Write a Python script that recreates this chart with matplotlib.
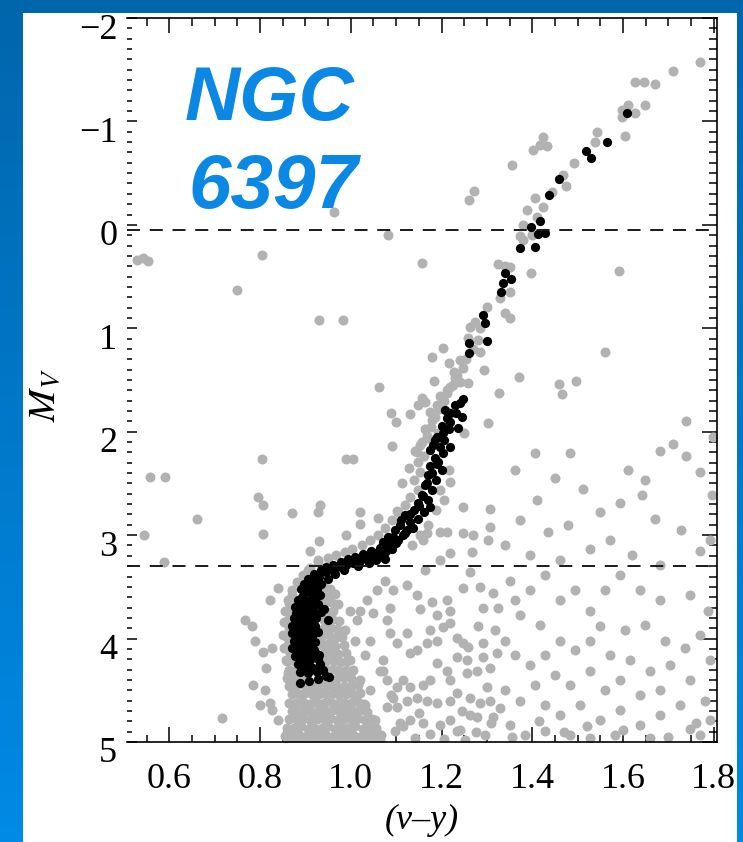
import matplotlib
matplotlib.use('Agg')
import matplotlib.pyplot as plt
import numpy as np
from matplotlib.patches import Rectangle
from matplotlib.transforms import ScaledTranslation

plt.rcParams['font.family'] = ['Liberation Serif', 'DejaVu Serif']
plt.rcParams['mathtext.fontset'] = 'stix'

# ---------------- data ----------------
x_ticks = [0.6, 0.8, 1.0, 1.2, 1.4, 1.6, 1.8]
x_tick_labels = ['0.6', '0.8', '1.0', '1.2', '1.4', '1.6', '1.8']
y_ticks = [-2, -1, 0, 1, 2, 3, 4, 5]
y_tick_labels = ['\u22122', '\u22121', '0', '1', '2', '3', '4', '5']
ref_lines = [0.05, 3.3]
title_lines = ['NGC', '6397']

# black (selected members)
black_rgb_vy = [1.609, 1.565, 1.519, 1.530, 1.459, 1.437, 1.417, 1.398, 1.413, 1.428, 1.373, 1.406,
                1.340, 1.353, 1.336, 1.332, 1.292, 1.296, 1.300, 1.261, 1.261, 1.248, 1.241, 1.208,
                1.219, 1.232, 1.245, 1.219, 1.217, 1.204, 1.186, 1.182, 1.197, 1.219, 1.186, 1.230,
                1.213, 1.200, 1.237, 1.191, 1.206, 1.175, 1.204,
                1.193, 1.175, 1.202, 1.171, 1.188, 1.164, 1.179, 1.157, 1.171, 1.149, 1.175, 1.140,
                1.162, 1.120, 1.149, 1.131, 1.109, 1.138, 1.098, 1.120, 1.094, 1.105, 1.083, 1.065,
                1.091, 1.076, 1.056,
                1.110, 1.125, 1.115, 1.100, 1.150, 1.160, 1.167, 1.180, 1.190, 1.130, 1.082, 1.070]
black_rgb_mv = [-1.08, -0.80, -0.71, -0.65, -0.44, -0.29, -0.04, 0.02, 0.09, 0.08, 0.22, 0.21,
                0.47, 0.52, 0.56, 0.65, 0.87, 0.95, 1.12, 1.14, 1.24, 1.68, 1.72, 1.79,
                1.82, 1.82, 1.86, 1.91, 1.97, 2.01, 2.08, 2.13, 2.15, 2.15, 2.25, 1.74,
                1.87, 1.94, 1.96, 2.05, 2.08, 2.18, 2.21,
                2.29, 2.33, 2.37, 2.42, 2.47, 2.52, 2.56, 2.61, 2.66, 2.69, 2.73, 2.76,
                2.78, 2.81, 2.84, 2.87, 2.90, 2.93, 2.95, 2.98, 3.02, 3.05, 3.08, 3.12,
                3.13, 3.16, 3.17,
                2.85, 2.95, 3.00, 3.08, 2.72, 2.62, 2.50, 2.40, 2.31, 2.80, 3.02, 3.07]
black_sgb_vy = [1.080, 1.065, 1.050, 1.070, 1.035, 1.055, 1.020, 1.040, 1.005, 0.990, 1.015, 0.970,
                0.955, 0.985, 0.945, 0.965, 0.930, 0.950, 0.920, 0.935, 0.910, 0.925, 0.900, 0.915,
                0.893,
                1.045, 1.028, 1.010, 0.995, 0.978, 0.960, 0.945, 0.935, 0.918, 0.905, 0.898, 0.890,
                1.060, 1.075]
black_sgb_mv = [3.14, 3.17, 3.19, 3.21, 3.22, 3.24, 3.25, 3.27, 3.27, 3.29, 3.30, 3.31,
                3.33, 3.34, 3.36, 3.38, 3.40, 3.42, 3.44, 3.47, 3.49, 3.52, 3.55, 3.57,
                3.60,
                3.15, 3.18, 3.21, 3.23, 3.26, 3.29, 3.31, 3.34, 3.38, 3.42, 3.47, 3.52,
                3.19, 3.23]
black_ms_vy = [0.884, 0.902, 0.919, 0.932, 0.878, 0.895, 0.913, 0.928, 0.880, 0.900, 0.917, 0.934,
               0.950, 0.876, 0.891, 0.908, 0.924, 0.871, 0.888, 0.904, 0.921, 0.876, 0.893, 0.910,
               0.928, 0.874, 0.888, 0.906, 0.921, 0.871, 0.886, 0.904, 0.919, 0.878, 0.895, 0.913,
               0.930, 0.884, 0.900, 0.917, 0.932, 0.888, 0.906, 0.926, 0.945, 0.888, 0.908, 0.928,
               0.952,
               0.887, 0.905, 0.922, 0.884, 0.900, 0.916, 0.882, 0.898, 0.915, 0.880, 0.896, 0.913,
               0.882, 0.899, 0.916, 0.880, 0.897, 0.914, 0.882, 0.898, 0.915, 0.887, 0.904, 0.921,
               0.892, 0.910, 0.927, 0.895, 0.915, 0.938, 0.940, 0.870]
black_ms_mv = [3.63, 3.63, 3.61, 3.58, 3.69, 3.70, 3.69, 3.67, 3.75, 3.76, 3.75, 3.74,
               3.82, 3.80, 3.81, 3.83, 3.80, 3.88, 3.88, 3.89, 3.88, 3.95, 3.96, 3.95,
               3.94, 4.02, 4.03, 4.02, 4.03, 4.09, 4.10, 4.09, 4.11, 4.17, 4.18, 4.17,
               4.16, 4.25, 4.26, 4.28, 4.25, 4.32, 4.33, 4.32, 4.36, 4.43, 4.41, 4.39,
               4.37,
               3.66, 3.66, 3.64, 3.72, 3.73, 3.72, 3.78, 3.78, 3.77, 3.85, 3.85, 3.84,
               3.92, 3.92, 3.91, 3.99, 3.99, 3.98, 4.06, 4.06, 4.05, 4.13, 4.14, 4.13,
               4.21, 4.21, 4.20, 4.29, 4.29, 4.30, 3.71, 3.95]

# gray (full sample) - giant branch region
gray_rgb_vy = [1.770, 1.710, 1.627, 1.646, 1.671, 1.649, 1.611, 1.598, 1.627, 1.598, 1.605, 1.543,
               1.539, 1.424, 1.417, 1.433, 1.402, 1.356, 1.272, 1.261, 1.493, 1.468, 1.475, 1.444,
               1.406, 1.424, 1.389, 1.411, 1.380, 1.373, 1.380, 1.400, 1.325, 1.340, 1.351, 1.398,
               1.329, 1.351, 1.301, 1.339, 1.350, 1.274, 1.263, 1.285, 1.259, 1.281, 1.204, 1.180,
               1.217, 1.285, 1.294, 1.241, 1.248, 1.184, 1.371, 1.327, 1.230, 1.241, 1.219, 1.259,
               1.213, 1.157, 1.164, 1.149, 1.131, 1.089, 1.100, 1.303, 1.250, 1.091, 1.142, 1.193,
               1.219,
               1.197, 1.191, 1.175, 1.180, 1.164, 1.171, 1.153, 1.162, 1.149, 1.153, 1.140, 1.149,
               1.131, 1.120, 1.105, 1.091, 1.076, 1.060, 1.042, 1.025, 1.003, 0.987, 0.967, 0.950,
               0.928, 0.910, 0.895, 0.882, 0.871, 0.862, 0.855, 0.853, 0.851, 0.853, 0.858, 0.862,
               0.866,
               1.217, 1.197, 1.188, 1.171, 1.153, 1.135, 1.206, 1.219,
               0.928, 0.871, 0.807, 0.930, 0.989, 1.020, 1.020, 1.060, 1.103, 0.910, 0.928, 0.906,
               0.840, 0.822, 0.783, 0.827, 0.807, 0.814, 0.785, 0.800, 0.822, 0.840, 0.860,
               1.235, 1.225, 1.212, 1.205, 1.195, 1.186, 1.176, 1.168, 1.158, 1.145, 1.128, 1.112,
               1.270, 1.255, 1.228]
gray_rgb_mv = [-1.57, -1.49, -1.38, -1.38, -1.36, -1.16, -1.16, -1.11, -1.08, -1.04, -0.86, -0.90,
               -0.80, -0.85, -0.77, -0.76, -0.72, -0.58, -0.33, -0.24, -0.60, -0.48, -0.38, -0.32,
               -0.26, -0.17, -0.14, -0.08, 0.00, 0.11, 0.15, 0.10, 0.38, 0.40, 0.41, 0.47,
               0.71, 0.65, 0.79, 0.85, 0.90, 0.94, 0.99, 1.00, 1.09, 1.11, 1.19, 1.28,
               1.34, 1.23, 1.40, 1.31, 1.38, 1.51, 1.47, 1.63, 1.48, 1.52, 1.57, 1.53,
               1.63, 1.67, 1.71, 1.74, 1.83, 1.82, 1.91, 1.92, 2.01, 2.14, 2.19, 2.01,
               1.82,
               1.65, 1.74, 1.81, 1.89, 1.97, 2.06, 2.13, 2.23, 2.29, 2.39, 2.47, 2.56,
               2.63, 2.71, 2.78, 2.85, 2.93, 3.00, 3.05, 3.10, 3.13, 3.16, 3.19, 3.22,
               3.26, 3.32, 3.39, 3.45, 3.53, 3.63, 3.73, 3.84, 3.97, 4.09, 4.21, 4.33,
               4.45,
               2.37, 2.56, 2.76, 2.90, 3.00, 3.10, 2.66, 2.49,
               2.78, 2.79, 2.99, 3.06, 3.00, 2.78, 2.89, 2.83, 2.77, 3.15, 3.24, 3.34,
               3.51, 3.63, 3.88, 4.09, 4.13, 4.28, 4.45, 4.64, 4.62, 4.79, 4.91,
               1.45, 1.55, 1.60, 1.70, 1.78, 1.86, 1.95, 2.04, 2.10, 2.20, 2.35, 2.50,
               1.20, 1.30, 1.42]

# gray - dense main-sequence blob
gray_ms_vy = [0.900, 0.940, 0.955, 0.870, 0.950, 0.966, 0.865, 0.940, 0.956, 0.972, 0.866, 0.946,
              0.961, 0.862, 0.940, 0.958, 0.975, 0.865, 0.941, 0.955, 0.970, 0.860, 0.935, 0.951,
              0.966, 0.981, 0.861, 0.936, 0.950, 0.965, 0.985, 0.866, 0.940, 0.955, 0.971, 0.990,
              0.860, 0.876, 0.945, 0.961, 0.976, 0.991, 0.865, 0.880, 0.946, 0.960, 0.975, 0.990,
              1.005, 0.860, 0.875, 0.890, 0.940, 0.955, 0.970, 0.985, 1.000,
              0.865, 0.880, 0.896, 0.910, 0.925, 0.941, 0.955, 0.970, 0.986, 1.000, 1.015,
              0.870, 0.885, 0.900, 0.916, 0.930, 0.945, 0.961, 0.975, 0.990, 1.006, 1.021,
              0.865, 0.880, 0.895, 0.911, 0.925, 0.940, 0.956, 0.970, 0.985, 1.001, 1.015, 1.030,
              0.870, 0.886, 0.900, 0.915, 0.931, 0.945, 0.960, 0.976, 0.990, 1.005, 1.021, 1.036,
              0.865, 0.880, 0.896, 0.910, 0.925, 0.941, 0.955, 0.970, 0.986, 1.000, 1.015, 1.031, 1.046,
              0.860, 0.875, 0.891, 0.905, 0.920, 0.936, 0.950, 0.965, 0.981, 0.995, 1.010, 1.026,
              1.040, 1.055,
              0.855, 0.870, 0.886, 0.900, 0.915, 0.931, 0.945, 0.960, 0.976, 0.990, 1.005, 1.021,
              1.035, 1.050, 1.066,
              0.862, 0.881, 0.900, 0.921, 0.940, 0.960, 0.981, 1.000, 1.020, 1.041, 1.060]
gray_ms_mv = [3.50, 3.50, 3.52, 3.58, 3.58, 3.57, 3.66, 3.66, 3.65, 3.67, 3.74, 3.74,
              3.73, 3.82, 3.82, 3.81, 3.83, 3.90, 3.90, 3.89, 3.91, 3.98, 3.98, 3.97,
              3.99, 3.98, 4.06, 4.06, 4.05, 4.07, 4.06, 4.14, 4.14, 4.13, 4.15, 4.14,
              4.22, 4.22, 4.22, 4.21, 4.23, 4.22, 4.30, 4.30, 4.30, 4.29, 4.31, 4.30,
              4.30, 4.38, 4.38, 4.37, 4.38, 4.39, 4.38, 4.37, 4.38,
              4.46, 4.46, 4.45, 4.47, 4.46, 4.46, 4.45, 4.47, 4.46, 4.46, 4.45,
              4.54, 4.54, 4.53, 4.55, 4.54, 4.54, 4.53, 4.55, 4.54, 4.54, 4.53,
              4.62, 4.62, 4.61, 4.63, 4.62, 4.62, 4.61, 4.63, 4.62, 4.62, 4.61, 4.63,
              4.70, 4.70, 4.69, 4.71, 4.70, 4.70, 4.69, 4.71, 4.70, 4.70, 4.69, 4.71,
              4.78, 4.78, 4.77, 4.79, 4.78, 4.78, 4.77, 4.79, 4.78, 4.78, 4.77, 4.79, 4.78,
              4.86, 4.86, 4.85, 4.87, 4.86, 4.86, 4.85, 4.87, 4.86, 4.86, 4.85, 4.87,
              4.86, 4.86,
              4.94, 4.94, 4.93, 4.95, 4.94, 4.94, 4.93, 4.95, 4.94, 4.94, 4.93, 4.95,
              4.94, 4.94, 4.93,
              5.00, 5.00, 5.00, 5.00, 5.00, 5.00, 5.00, 5.00, 5.00, 5.00, 5.00]

# gray - field stars / outliers
gray_field_vy = [0.529, 0.542, 0.553, 0.749, 0.804, 0.930, 0.983, 0.964, 0.990, 1.005, 0.804, 0.557,
                 0.590, 0.544, 0.661, 0.795, 0.807, 0.932, 0.589, 0.767, 0.789, 0.716, 0.811, 0.827,
                 1.591, 1.561, 1.459, 1.497, 1.466, 1.407, 1.484, 1.682, 1.711, 1.062, 1.082, 1.157,
                 1.362, 1.450, 1.512, 1.410, 1.549, 1.593, 1.642, 1.671, 1.727, 1.571, 1.527, 1.479,
                 1.435, 1.373, 1.340, 1.395, 1.461, 1.620, 1.682, 1.770, 1.792, 1.739, 1.739, 1.799,
                 1.770, 1.796, 1.611, 1.649,
                 1.169, 1.160, 1.197, 1.213, 1.248, 1.270, 1.303, 1.219, 1.197, 1.268, 1.307, 1.307,
                 1.248, 1.164, 1.076, 1.058, 1.036, 1.094, 1.124, 1.146, 1.153, 1.087, 1.020, 0.998,
                 1.014, 1.080, 1.049, 1.179, 1.212, 1.219, 1.190, 1.263, 1.285, 1.314, 1.292, 1.325,
                 1.248, 1.087, 1.103, 1.071, 1.065, 1.124, 1.175, 1.131, 1.146, 1.168, 1.190, 1.204,
                 1.219, 1.234, 1.248, 1.259, 1.292, 1.234, 1.257, 1.292, 1.323, 1.190, 1.212, 1.219,
                 1.257, 1.279, 1.307, 1.175, 1.160, 1.131, 1.116, 1.103, 1.080, 1.071, 1.094, 1.080,
                 1.103, 1.124, 1.146, 1.168, 1.190, 1.219, 1.234, 1.263, 1.285, 1.307, 1.301, 1.279,
                 1.314, 1.109, 1.131, 1.160, 1.219, 1.234, 1.175,
                 1.351, 1.395, 1.428, 1.461, 1.373, 1.417, 1.494, 1.527, 1.561, 1.593, 1.637, 1.681,
                 1.747, 1.788, 1.549, 1.604, 1.648, 1.692, 1.736, 1.770, 1.792, 1.461, 1.494, 1.527,
                 1.571, 1.615, 1.659, 1.703, 1.747, 1.340, 1.362, 1.395, 1.428, 1.450, 1.483, 1.527,
                 1.560, 1.593, 1.637, 1.681, 1.725, 1.781, 1.792, 1.340, 1.373, 1.406, 1.428, 1.461,
                 1.505, 1.549, 1.593, 1.637, 1.681, 1.747, 1.351, 1.384, 1.428, 1.483, 1.527, 1.582,
                 1.659, 1.770, 1.263, 1.296, 1.252, 1.329, 1.197, 1.142, 1.098, 1.065, 1.054, 1.032,
                 1.043, 1.020, 1.032, 1.009, 0.987, 0.998, 0.976, 1.043, 1.281, 1.318, 1.362,
                 1.240, 1.275, 1.310, 1.150, 1.115, 1.088, 1.205, 1.245, 1.355, 1.415, 1.470, 1.520,
                 1.600, 1.700, 1.760]
gray_field_mv = [0.34, 0.32, 0.35, 0.63, 0.29, 0.92, 0.92, -0.12, 2.26, 2.26, 2.26, 2.44,
                 2.44, 3.00, 2.84, 2.63, 2.71, 2.71, 3.26, 3.82, 4.02, 4.77, 4.50, 4.69,
                 0.45, 1.23, 1.54, 1.51, 1.64, 2.21, 2.21, 2.19, 2.12, 1.57, 0.10, 0.37,
                 2.37, 2.45, 2.55, 2.66, 2.78, 2.69, 2.61, 2.84, 2.95, 3.05, 3.13, 2.90,
                 2.97, 2.85, 3.10, 3.19, 3.24, 3.19, 3.29, 3.15, 3.05, 1.90, 2.23, 2.05,
                 2.39, 2.61, 2.37, 2.47,
                 2.98, 3.05, 2.97, 2.97, 2.98, 3.00, 3.05, 3.17, 3.24, 3.16, 2.92, 2.75,
                 2.73, 3.34, 3.44, 3.53, 3.63, 3.53, 3.48, 3.58, 3.71, 3.70, 3.73, 3.73,
                 3.82, 3.82, 3.75, 3.65, 3.63, 3.73, 3.77, 3.36, 3.50, 3.56, 3.70, 3.70,
                 3.51, 3.95, 4.04, 4.21, 4.31, 3.95, 3.92, 4.14, 4.11, 4.04, 4.02, 3.89,
                 3.85, 3.99, 4.04, 4.08, 4.04, 4.18, 4.21, 4.18, 4.14, 4.24, 4.31, 4.40,
                 4.33, 4.31, 4.28, 4.40, 4.45, 4.47, 4.40, 4.47, 4.40, 4.31, 4.57, 4.66,
                 4.66, 4.60, 4.57, 4.60, 4.62, 4.60, 4.53, 4.57, 4.62, 4.60, 4.47, 4.76,
                 4.76, 4.82, 4.79, 4.82, 4.79, 4.89, 4.92,
                 3.44, 3.53, 3.39, 3.63, 3.77, 3.87, 3.53, 3.73, 3.53, 3.39, 3.53, 3.63,
                 3.58, 3.73, 3.88, 3.92, 3.87, 4.02, 4.09, 3.97, 4.21, 4.02, 4.11, 4.02,
                 4.16, 4.21, 4.31, 4.26, 4.40, 4.02, 4.16, 4.26, 4.16, 4.35, 4.45, 4.31,
                 4.50, 4.40, 4.55, 4.50, 4.64, 4.60, 4.79, 4.50, 4.60, 4.45, 4.64, 4.74,
                 4.64, 4.79, 4.69, 4.84, 4.74, 4.87, 4.84, 4.93, 4.89, 4.93, 4.96, 4.93,
                 4.96, 4.93, 4.74, 4.93, 4.98, 4.67, 4.84, 4.96, 4.89, 4.98, 4.79, 4.64,
                 4.50, 4.40, 4.16, 4.02, 3.92, 4.21, 4.50, 4.02, 3.88, 3.92, 3.63,
                 4.88, 4.90, 4.82, 4.72, 4.85, 4.55, 4.97, 4.70, 4.95, 4.80, 4.90, 4.85,
                 4.88, 4.95, 4.82]

# ---------------- figure ----------------
W, H = 743, 842
fig = plt.figure(figsize=(W / 100, H / 100), dpi=100)

# background gradient + white panel
bg = fig.add_axes([0, 0, 1, 1], zorder=-10)
grad = np.linspace(0, 1, 256).reshape(-1, 1)
top_c = np.array([0, 102, 172]) / 255
bot_c = np.array([0, 138, 230]) / 255
img = top_c[None, None, :] * (1 - grad[:, :, None]) + bot_c[None, None, :] * grad[:, :, None]
bg.imshow(img, extent=[0, W, H, 0], aspect='auto')
bg.add_patch(Rectangle((23, 13), 714, H - 13, facecolor='white', edgecolor='none'))
bg.set_xlim(0, W)
bg.set_ylim(H, 0)
bg.axis('off')

ax = fig.add_axes([127 / W, (H - 742) / H, 590 / W, 724 / H])
ax.set_facecolor('none')

gray = '#b2b2b2'
gx = gray_ms_vy + gray_rgb_vy + gray_field_vy
gy = gray_ms_mv + gray_rgb_mv + gray_field_mv
ax.scatter(gx, gy, s=52, c=gray, linewidths=0, zorder=2)
bx = black_rgb_vy + black_sgb_vy + black_ms_vy
by = black_rgb_mv + black_sgb_mv + black_ms_mv
ax.scatter(bx, by, s=44, c='black', linewidths=0, zorder=3)

for yl in ref_lines:
    ax.axhline(yl, color='#1a1a1a', lw=1.4, dashes=(6.7, 5.0), zorder=4)

ax.set_xlim(0.507, 1.807)
ax.set_ylim(5, -2)
ax.set_xticks(x_ticks)
ax.set_xticklabels(x_tick_labels)
ax.set_xticks(np.arange(0.55, 1.81, 0.05), minor=True)
ax.set_yticks(y_ticks)
ax.set_yticklabels(y_tick_labels)
ax.set_yticks(np.arange(-2, 5.01, 0.1), minor=True)

ax.spines['left'].set_visible(False)
for s in ['top', 'right', 'bottom']:
    ax.spines[s].set_linewidth(1.2)
    ax.spines[s].set_zorder(5)

ax.tick_params(axis='both', which='both', direction='in', top=True, right=True,
               width=1.1, labelsize=26)
ax.tick_params(axis='x', which='major', length=10.8, pad=15)
ax.tick_params(axis='x', which='minor', length=5.4)
ax.tick_params(axis='y', which='major', length=10.8, pad=7)
ax.tick_params(axis='y', which='minor', length=5.6)

for t in ax.yaxis.get_major_ticks():
    t.tick1line.set_markersize(7.2)
for t in ax.yaxis.get_minor_ticks():
    t.tick1line.set_markersize(3.4)

off = ScaledTranslation(0, -8 / 100, fig.dpi_scale_trans)
for lab in ax.get_yticklabels():
    lab.set_transform(lab.get_transform() + off)

ax.set_xlabel('(v\u2013y)', fontsize=26, fontstyle='italic')
ax.xaxis.label.set_va('center')
ax.xaxis.set_label_coords(0.5, -0.108)
ax.set_ylabel('$M_V$', fontsize=28)
ax.yaxis.label.set_va('center')
ax.yaxis.set_label_coords(-0.138, 0.479)

title_color = '#0b88e4'
fig.text(185 / W, (H - 120) / H, title_lines[0], fontsize=55, fontweight='bold',
         fontstyle='italic', family=['Liberation Sans', 'DejaVu Sans'],
         color=title_color, va='baseline', ha='left', zorder=10)
fig.text(188 / W, (H - 208) / H, title_lines[1], fontsize=55, fontweight='bold',
         fontstyle='italic', family=['Liberation Sans', 'DejaVu Sans'],
         color=title_color, va='baseline', ha='left', zorder=10)

fig.savefig('out.png', dpi=100)
